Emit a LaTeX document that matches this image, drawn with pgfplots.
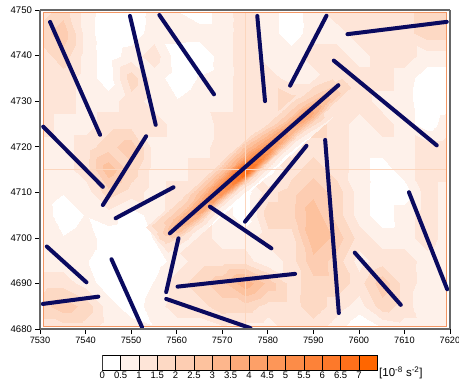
\documentclass[border=0pt]{standalone}
\usepackage{fontspec}
\setmainfont{Liberation Sans}
\usepackage{pgfplots}
\pgfplotsset{compat=1.18}
\definecolor{navyl}{RGB}{10,10,95}
\definecolor{frameor}{RGB}{242,150,100}
\definecolor{crossor}{RGB}{252,214,190}
\definecolor{cb0}{RGB}{255,255,255}
\definecolor{cb1}{RGB}{254,241,234}
\definecolor{cb2}{RGB}{254,229,216}
\definecolor{cb3}{RGB}{253,217,196}
\definecolor{cb4}{RGB}{253,205,178}
\definecolor{cb5}{RGB}{253,194,158}
\definecolor{cb6}{RGB}{253,182,140}
\definecolor{cb7}{RGB}{253,170,121}
\definecolor{cb8}{RGB}{253,160,104}
\definecolor{cb9}{RGB}{253,150,88}
\definecolor{cb10}{RGB}{252,140,72}
\definecolor{cb11}{RGB}{253,130,56}
\definecolor{cb12}{RGB}{253,121,42}
\definecolor{cb13}{RGB}{254,112,27}
\definecolor{cb14}{RGB}{255,102,0}
\pgfplotsset{
  colormap={orng}{rgb255=(255,255,255) rgb255=(254,241,234) rgb255=(254,229,216)
    rgb255=(253,217,196) rgb255=(253,205,178) rgb255=(253,194,158) rgb255=(253,182,140)
    rgb255=(253,170,121) rgb255=(253,160,104) rgb255=(253,150,88) rgb255=(252,140,72)
    rgb255=(253,130,56) rgb255=(253,121,42) rgb255=(254,112,27) rgb255=(255,102,0)
    rgb255=(255,102,0)},
  stick/.style={navyl, line width=4bp, line cap=round},
}
\begin{document}
\begin{tikzpicture}
\useasboundingbox (0,0) rectangle (459bp,384bp);
\begin{axis}[
  at={(40bp,55bp)}, anchor=south west, scale only axis,
  width=410bp, height=319bp,
  view={0}{90},
  xmin=7530, xmax=7620, ymin=4680, ymax=4750,
  xtick={7530,7540,...,7620}, ytick={4680,4690,...,4750},
  hide z axis,
  tick align=outside, tick pos=left,
  major tick length=4.5bp,
  axis line style={draw=black!60, line width=1.3bp},
  major tick style={black, line width=0.7bp},
  tick label style={font=\fontsize{9.6bp}{11bp}\selectfont},
  xticklabel style={font=\fontsize{9.2bp}{11bp}\selectfont},
  /pgf/number format/assume math mode=true,
  /pgf/number format/1000 sep={},
  colormap name=orng,
  colormap access=piecewise constant,
  point meta min=0, point meta max=7.5,
  clip=true,
]
% background field
\addplot3[surf, shader=interp] table[x=x, y=y, z=z] {
x y z
7530.7 4680.5 1.2
7535 4680.5 1.2
7540 4680.5 1.2
7545 4680.5 0.7
7550 4680.5 0.7
7555 4680.5 0.5
7560 4680.5 0.7
7565 4680.5 0.7
7570 4680.5 0.9
7575 4680.5 0.7
7580 4680.5 0.7
7585 4680.5 1.2
7590 4680.5 1.2
7595 4680.5 0.7
7600 4680.5 0.1
7605 4680.5 0.5
7610 4680.5 0.7
7615 4680.5 0.7
7619.3 4680.5 0.7

7530.7 4685 1.7
7535 4685 2.2
7540 4685 1.7
7545 4685 0.7
7550 4685 0.2
7555 4685 0.7
7560 4685 1.2
7565 4685 1.2
7570 4685 1.7
7575 4685 1.7
7580 4685 1.2
7585 4685 1.2
7590 4685 1.7
7595 4685 1.2
7600 4685 0.7
7605 4685 1.7
7610 4685 1.2
7615 4685 0.5
7619.3 4685 0.5

7530.7 4690 1.2
7535 4690 1.2
7540 4690 0.7
7545 4690 0.2
7550 4690 0.1
7555 4690 0.5
7560 4690 1.2
7565 4690 1.7
7570 4690 2.2
7575 4690 3.2
7580 4690 2.2
7585 4690 1.2
7590 4690 1.7
7595 4690 1.7
7600 4690 1.2
7605 4690 2.2
7610 4690 1.2
7615 4690 0.7
7619.3 4690 0.7

7530.7 4695 0.7
7535 4695 0.7
7540 4695 0.5
7545 4695 0.2
7550 4695 0.1
7555 4695 0.2
7560 4695 0.7
7565 4695 1.2
7570 4695 1.2
7575 4695 1.2
7580 4695 0.5
7585 4695 1.2
7590 4695 2.2
7595 4695 1.7
7600 4695 0.7
7605 4695 1.2
7610 4695 1.2
7615 4695 0.7
7619.3 4695 0.5

7530.7 4700 0.7
7535 4700 0.5
7540 4700 0.7
7545 4700 0.2
7550 4700 0.1
7555 4700 0.5
7560 4700 1.2
7565 4700 1.2
7570 4700 0.7
7575 4700 0.7
7580 4700 1.2
7585 4700 1.2
7590 4700 2.7
7595 4700 2.2
7600 4700 1.2
7605 4700 0.7
7610 4700 0.7
7615 4700 1.2
7619.3 4700 0.7

7530.7 4705 0.7
7535 4705 0.2
7540 4705 0.5
7545 4705 0.7
7550 4705 0.2
7555 4705 0.7
7560 4705 1.2
7565 4705 1.2
7570 4705 0.7
7575 4705 0.2
7580 4705 1.7
7585 4705 1.7
7590 4705 2.7
7595 4705 1.7
7600 4705 0.7
7605 4705 0.2
7610 4705 0.7
7615 4705 1.2
7619.3 4705 0.7

7530.7 4710 0.7
7535 4710 0.5
7540 4710 0.7
7545 4710 1.7
7550 4710 1.2
7555 4710 0.7
7560 4710 1.2
7565 4710 1.2
7570 4710 0.7
7575 4710 0.2
7580 4710 1.2
7585 4710 1.7
7590 4710 2.2
7595 4710 1.7
7600 4710 0.7
7605 4710 0.2
7610 4710 0.2
7615 4710 1.2
7619.3 4710 0.7

7530.7 4715 0.7
7535 4715 0.7
7540 4715 1.2
7545 4715 2.7
7550 4715 1.7
7555 4715 0.7
7560 4715 0.7
7565 4715 1.2
7570 4715 1.2
7575 4715 1.2
7580 4715 0.2
7585 4715 1.2
7590 4715 1.7
7595 4715 1.2
7600 4715 0.7
7605 4715 0.2
7610 4715 0.7
7615 4715 1.2
7619.3 4715 1.2

7530.7 4720 0.7
7535 4720 0.7
7540 4720 1.2
7545 4720 1.7
7550 4720 2.2
7555 4720 0.7
7560 4720 0.7
7565 4720 0.7
7570 4720 1.2
7575 4720 1.2
7580 4720 1.2
7585 4720 0.7
7590 4720 1.2
7595 4720 1.2
7600 4720 0.7
7605 4720 0.7
7610 4720 0.7
7615 4720 1.2
7619.3 4720 1.2

7530.7 4725 1.2
7535 4725 0.7
7540 4725 0.7
7545 4725 1.2
7550 4725 1.2
7555 4725 1.2
7560 4725 0.7
7565 4725 0.5
7570 4725 1.2
7575 4725 1.2
7580 4725 1.2
7585 4725 1.7
7590 4725 1.7
7595 4725 1.2
7600 4725 0.7
7605 4725 1.2
7610 4725 0.7
7615 4725 0.2
7619.3 4725 0.7

7530.7 4730 1.2
7535 4730 1.2
7540 4730 0.7
7545 4730 0.7
7550 4730 1.2
7555 4730 0.7
7560 4730 0.5
7565 4730 0.7
7570 4730 0.7
7575 4730 1.2
7580 4730 1.2
7585 4730 1.7
7590 4730 1.7
7595 4730 1.7
7600 4730 1.2
7605 4730 0.7
7610 4730 0.7
7615 4730 0.1
7619.3 4730 0.2

7530.7 4735 1.2
7535 4735 1.2
7540 4735 0.7
7545 4735 0.2
7550 4735 1.7
7555 4735 0.7
7560 4735 0.2
7565 4735 0.5
7570 4735 0.7
7575 4735 1.2
7580 4735 1.2
7585 4735 0.7
7590 4735 0.7
7595 4735 1.2
7600 4735 1.2
7605 4735 1.2
7610 4735 0.7
7615 4735 0.2
7619.3 4735 0.2

7530.7 4740 1.2
7535 4740 1.7
7540 4740 0.7
7545 4740 0.2
7550 4740 0.7
7555 4740 1.2
7560 4740 0.2
7565 4740 0.1
7570 4740 0.7
7575 4740 1.2
7580 4740 0.7
7585 4740 0.7
7590 4740 1.2
7595 4740 1.2
7600 4740 0.7
7605 4740 1.2
7610 4740 1.2
7615 4740 0.7
7619.3 4740 0.7

7530.7 4745 1.7
7535 4745 2.2
7540 4745 0.7
7545 4745 0.1
7550 4745 0.2
7555 4745 0.7
7560 4745 0.7
7565 4745 0.7
7570 4745 0.7
7575 4745 1.2
7580 4745 0.7
7585 4745 0.2
7590 4745 0.7
7595 4745 0.7
7600 4745 1.2
7605 4745 1.2
7610 4745 1.2
7615 4745 1.7
7619.3 4745 1.7

7530.7 4749.5 1.2
7535 4749.5 1.7
7540 4749.5 0.7
7545 4749.5 0.2
7550 4749.5 0.1
7555 4749.5 0.7
7560 4749.5 0.5
7565 4749.5 0.2
7570 4749.5 0.7
7575 4749.5 1.2
7580 4749.5 0.7
7585 4749.5 0.2
7590 4749.5 0.7
7595 4749.5 1.2
7600 4749.5 1.2
7605 4749.5 1.2
7610 4749.5 1.2
7615 4749.5 1.7
7619.3 4749.5 1.7
};
% diagonal streak of high values
\addplot3[surf, shader=interp] table[x=x, y=y, z=z] {
x y z
7559.22 4695.64 0.7
7557.90 4697.14 1
7556.91 4698.27 1.2
7555.92 4699.40 1.2
7554.93 4700.52 1.2
7553.28 4702.40 1.2

7562.97 4698.94 0.7
7561.65 4700.44 1.2
7560.66 4701.57 2.5
7559.67 4702.70 3
7558.68 4703.82 2.2
7557.03 4705.70 1.2

7566.73 4702.24 0.5
7565.41 4703.74 1.5
7564.42 4704.87 3.2
7563.43 4706.00 3.5
7562.44 4707.12 2.2
7560.79 4709.00 1.2

7570.48 4705.54 0.2
7569.16 4707.04 1.2
7568.17 4708.17 3.8
7567.18 4709.30 4
7566.19 4710.42 2.8
7564.54 4712.30 1.2

7574.24 4708.84 0.2
7572.92 4710.34 1.2
7571.93 4711.47 5
7570.94 4712.60 5
7569.95 4713.72 3
7568.30 4715.60 1.2

7577.24 4711.48 0.3
7575.92 4712.98 1.7
7574.93 4714.11 6.5
7573.94 4715.24 6
7572.95 4716.36 3.3
7571.30 4718.24 1.5

7580.25 4714.12 0.2
7578.93 4715.62 1.5
7577.94 4716.75 5.5
7576.95 4717.88 5
7575.96 4719.00 3.3
7574.31 4720.88 1.7

7584.00 4717.42 0.2
7582.68 4718.92 1.2
7581.69 4720.05 4
7580.70 4721.18 4
7579.71 4722.30 2.8
7578.06 4724.18 1.2

7587.76 4720.72 0.3
7586.44 4722.22 1.2
7585.45 4723.35 3
7584.46 4724.48 3.5
7583.47 4725.60 2.2
7581.82 4727.48 1.2

7591.51 4724.02 0.7
7590.19 4725.52 1.7
7589.20 4726.65 3.5
7588.21 4727.78 3.5
7587.22 4728.90 2.2
7585.57 4730.78 1.2

7595.27 4727.32 1
7593.95 4728.82 1.2
7592.96 4729.95 2.5
7591.97 4731.08 2.5
7590.98 4732.20 1.7
7589.33 4734.08 1.2

7600.52 4731.94 1.2
7599.20 4733.44 1.2
7598.21 4734.57 1.2
7597.22 4735.70 1.2
7596.23 4736.82 1.2
7594.58 4738.70 1.2
};
% tile boundaries and data frame
\addplot[crossor, line width=0.6bp] coordinates {(7575,4680.5) (7575,4749.5)};
\addplot[crossor, line width=0.6bp] coordinates {(7530.7,4715) (7619.3,4715)};
\addplot[frameor, line width=0.8bp] coordinates {(7530.7,4680.5) (7619.3,4680.5) (7619.3,4749.5) (7530.7,4749.5) (7530.7,4680.5)};
% axes segments
\addplot[stick] coordinates {(7532.2,4747.4) (7543.2,4722.6)};
\addplot[stick] coordinates {(7549.75,4748.7) (7555.4,4724.8)};
\addplot[stick] coordinates {(7556.2,4748.9) (7568.2,4731.5)};
\addplot[stick] coordinates {(7530.7,4724.4) (7543.8,4711.2)};
\addplot[stick] coordinates {(7553.3,4722.3) (7543.8,4707.2)};
\addplot[stick] coordinates {(7577.7,4748.7) (7579.4,4730.0)};
\addplot[stick] coordinates {(7592.9,4748.75) (7584.9,4733.4)};
\addplot[stick] coordinates {(7597.5,4744.7) (7619.3,4747.4)};
\addplot[stick] coordinates {(7594.5,4738.9) (7617.1,4720.3)};
\addplot[stick] coordinates {(7595.5,4733.5) (7558.5,4701.0)};
\addplot[stick] coordinates {(7559.3,4711.1) (7546.6,4704.3)};
\addplot[stick] coordinates {(7531.5,4698.1) (7540.2,4690.25)};
\addplot[stick] coordinates {(7530.6,4685.5) (7542.8,4687.1)};
\addplot[stick] coordinates {(7545.7,4695.3) (7552.4,4680.4)};
\addplot[stick] coordinates {(7560.4,4699.9) (7557.7,4688.1)};
\addplot[stick] coordinates {(7560.2,4689.3) (7586.0,4692.1)};
\addplot[stick] coordinates {(7557.7,4686.6) (7576.2,4680.2)};
\addplot[stick] coordinates {(7588.5,4720.2) (7575.0,4703.55)};
\addplot[stick] coordinates {(7567.3,4706.85) (7580.8,4697.7)};
\addplot[stick] coordinates {(7592.6,4721.5) (7595.6,4683.5)};
\addplot[stick] coordinates {(7599.1,4696.75) (7609.2,4685.3)};
\addplot[stick] coordinates {(7611.0,4710.0) (7619.4,4688.7)};
\end{axis}
% colour bar
\begin{axis}[
  at={(102.3bp,14bp)}, anchor=south west, scale only axis,
  width=275bp, height=15bp,
  xmin=0, xmax=7.5, ymin=0, ymax=1,
  ytick=\empty,
  xtick={0,0.5,1,1.5,2,2.5,3,3.5,4,4.5,5,5.5,6,6.5,7},
  xticklabels={0,0.5,1,1.5,2,2.5,3,3.5,4,4.5,5,5.5,6,6.5,7},
  major tick length=0pt,
  xtick pos=bottom,
  axis line style={black, line width=0.9bp},
  tick label style={font=\fontsize{9.5bp}{10bp}\selectfont},
  xticklabel style={yshift=1.5bp},
]
\addplot[fill=cb0, draw=black, line width=0.8bp] coordinates {(0,0) (0.5,0) (0.5,1) (0,1)} -- cycle;
\addplot[fill=cb1, draw=black, line width=0.8bp] coordinates {(0.5,0) (1,0) (1,1) (0.5,1)} -- cycle;
\addplot[fill=cb2, draw=black, line width=0.8bp] coordinates {(1,0) (1.5,0) (1.5,1) (1,1)} -- cycle;
\addplot[fill=cb3, draw=black, line width=0.8bp] coordinates {(1.5,0) (2,0) (2,1) (1.5,1)} -- cycle;
\addplot[fill=cb4, draw=black, line width=0.8bp] coordinates {(2,0) (2.5,0) (2.5,1) (2,1)} -- cycle;
\addplot[fill=cb5, draw=black, line width=0.8bp] coordinates {(2.5,0) (3,0) (3,1) (2.5,1)} -- cycle;
\addplot[fill=cb6, draw=black, line width=0.8bp] coordinates {(3,0) (3.5,0) (3.5,1) (3,1)} -- cycle;
\addplot[fill=cb7, draw=black, line width=0.8bp] coordinates {(3.5,0) (4,0) (4,1) (3.5,1)} -- cycle;
\addplot[fill=cb8, draw=black, line width=0.8bp] coordinates {(4,0) (4.5,0) (4.5,1) (4,1)} -- cycle;
\addplot[fill=cb9, draw=black, line width=0.8bp] coordinates {(4.5,0) (5,0) (5,1) (4.5,1)} -- cycle;
\addplot[fill=cb10, draw=black, line width=0.8bp] coordinates {(5,0) (5.5,0) (5.5,1) (5,1)} -- cycle;
\addplot[fill=cb11, draw=black, line width=0.8bp] coordinates {(5.5,0) (6,0) (6,1) (5.5,1)} -- cycle;
\addplot[fill=cb12, draw=black, line width=0.8bp] coordinates {(6,0) (6.5,0) (6.5,1) (6,1)} -- cycle;
\addplot[fill=cb13, draw=black, line width=0.8bp] coordinates {(6.5,0) (7,0) (7,1) (6.5,1)} -- cycle;
\addplot[fill=cb14, draw=black, line width=0.8bp] coordinates {(7,0) (7.5,0) (7.5,1) (7,1)} -- cycle;
\end{axis}
\node[anchor=base west, inner sep=0pt, font=\fontsize{11.5bp}{12bp}\selectfont] at (379bp,7.5bp) {[10\textsuperscript{-8} s\textsuperscript{-2}]};
\end{tikzpicture}
\end{document}
